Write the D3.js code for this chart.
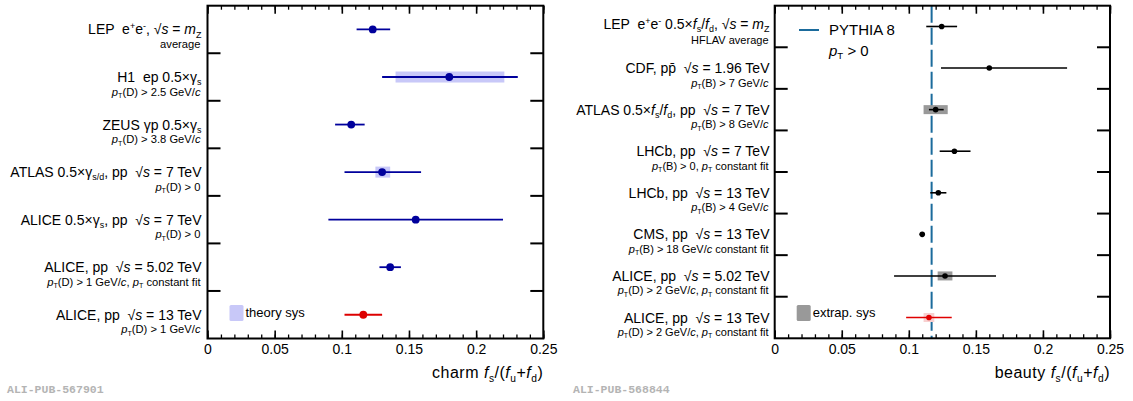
<!DOCTYPE html>
<html><head><meta charset="utf-8">
<script src="https://cdn.jsdelivr.net/npm/d3@7"></script>
<style>
body{margin:0;background:#fff;}
text{font-family:"Liberation Sans",Arial,Helvetica,sans-serif;white-space:pre;}
</style></head>
<body><svg id="c" width="1133" height="401"></svg>
<script>
// ---------------- DATA ----------------
// charm panel
const charmLabels = [
  "LEP  e^{+}e^{-}, √<i>s</i> = <i>m</i>_{Z}",
  "H1  ep 0.5×γ_{s}",
  "ZEUS γp 0.5×γ_{s}",
  "ATLAS 0.5×γ_{s/d}, pp  √<i>s</i> = 7 TeV",
  "ALICE 0.5×γ_{s}, pp  √<i>s</i> = 7 TeV",
  "ALICE, pp  √<i>s</i> = 5.02 TeV",
  "ALICE, pp  √<i>s</i> = 13 TeV"
];
const charmSub = [
  "average",
  "<i>p</i>_{T}(D) > 2.5 GeV/<i>c</i>",
  "<i>p</i>_{T}(D) > 3.8 GeV/<i>c</i>",
  "<i>p</i>_{T}(D) > 0",
  "<i>p</i>_{T}(D) > 0",
  "<i>p</i>_{T}(D) > 1 GeV/<i>c</i>, <i>p</i>_{T} constant fit",
  "<i>p</i>_{T}(D) > 1 GeV/<i>c</i>"
];
const charmVal   = [0.123, 0.180, 0.107, 0.130, 0.155, 0.136, 0.116];
const charmLo    = [0.111, 0.130, 0.095, 0.102, 0.090, 0.128, 0.102];
const charmHi    = [0.136, 0.231, 0.117, 0.159, 0.220, 0.144, 0.130];
const charmSysLo = [null, 0.140, null, 0.125, null, null, null];
const charmSysHi = [null, 0.221, null, 0.136, null, null, null];
const charmIsNew = [false, false, false, false, false, false, true];

// beauty panel
const beautyLabels = [
  "LEP  e^{+}e^{-} 0.5×<i>f</i>_{s}/<i>f</i>_{d}, √<i>s</i> = <i>m</i>_{Z}",
  "CDF, pp\u0304  √<i>s</i> = 1.96 TeV",
  "ATLAS 0.5×<i>f</i>_{s}/<i>f</i>_{d}, pp  √<i>s</i> = 7 TeV",
  "LHCb, pp  √<i>s</i> = 7 TeV",
  "LHCb, pp  √<i>s</i> = 13 TeV",
  "CMS, pp  √<i>s</i> = 13 TeV",
  "ALICE, pp  √<i>s</i> = 5.02 TeV",
  "ALICE, pp  √<i>s</i> = 13 TeV"
];
const beautySub = [
  "HFLAV average",
  "<i>p</i>_{T}(B) > 7 GeV/<i>c</i>",
  "<i>p</i>_{T}(B) > 8 GeV/<i>c</i>",
  "<i>p</i>_{T}(B) > 0, <i>p</i>_{T} constant fit",
  "<i>p</i>_{T}(B) > 4 GeV/<i>c</i>",
  "<i>p</i>_{T}(B) > 18 GeV/<i>c</i> constant fit",
  "<i>p</i>_{T}(D) > 2 GeV/<i>c</i>, <i>p</i>_{T} constant fit",
  "<i>p</i>_{T}(D) > 2 GeV/<i>c</i>, <i>p</i>_{T} constant fit"
];
const beautyVal   = [0.1245, 0.160, 0.120, 0.134, 0.122, 0.110, 0.127, 0.115];
const beautyLo    = [0.113, 0.124, 0.115, 0.123, 0.116, 0.108, 0.089, 0.098];
const beautyHi    = [0.136, 0.218, 0.126, 0.146, 0.128, 0.112, 0.165, 0.132];
const beautySysLo = [null, null, 0.111, null, null, null, 0.1215, 0.111];
const beautySysHi = [null, null, 0.129, null, null, null, 0.1325, 0.119];
const beautyIsNew = [false, false, false, false, false, false, false, true];
const pythiaValue = 0.117;

const xTickVals  = [0, 0.05, 0.1, 0.15, 0.2, 0.25];
const xTickLabels = ["0", "0.05", "0.1", "0.15", "0.2", "0.25"];
const xMinorVals = d3.range(0, 26).map(i => i / 100);

// ---------------- DRAW ----------------
const svg = d3.select("#c");
svg.append("rect").attr("width",1133).attr("height",401).attr("fill","#fff");

function rich(textSel, str, size) {
  const parts = str.split(/(<i>|<\/i>|_\{[^}]*\}|\^\{[^}]*\})/).filter(s => s !== "");
  let italic = false, shift = 0;
  parts.forEach(p => {
    if (p === "<i>") { italic = true; return; }
    if (p === "</i>") { italic = false; return; }
    let t = p, target = 0, fs = size, it = italic;
    if (p.startsWith("_{")) { t = p.slice(2, -1); target = 0.22 * size; fs = 0.64 * size; it = false; }
    else if (p.startsWith("^{")) { t = p.slice(2, -1); target = -0.38 * size; fs = 0.64 * size; it = false; }
    textSel.append("tspan").text(t)
      .attr("font-size", fs)
      .attr("dy", (target - shift).toFixed(2))
      .style("font-style", it ? "italic" : "normal");
    shift = target;
  });
}

function panel(o) {
  const g = svg.append("g");
  const x = d3.scaleLinear().domain([0, 0.25]).range([o.x0, o.x1]);
  const y = d3.scaleBand().domain(d3.range(o.val.length)).range([o.y0, o.y1]);
  const bw = y.bandwidth();
  const cy = i => y(i) + bw / 2;

  if (o.pythia != null) {
    g.append("line").attr("x1", x(o.pythia)).attr("x2", x(o.pythia))
      .attr("y1", o.y0).attr("y2", o.y1)
      .attr("stroke", "#1b6b9c").attr("stroke-width", 2)
      .attr("stroke-dasharray", "17,5");
  }

  o.val.forEach((v, i) => {
    if (o.sysLo[i] != null) {
      g.append("rect").attr("x", x(o.sysLo[i])).attr("width", x(o.sysHi[i]) - x(o.sysLo[i]))
        .attr("y", cy(i) - o.boxH / 2).attr("height", o.boxH)
        .attr("fill", o.isNew[i] ? o.newBox : o.boxColor);
    }
  });
  o.val.forEach((v, i) => {
    g.append("line").attr("x1", x(o.lo[i])).attr("x2", x(o.hi[i]))
      .attr("y1", cy(i)).attr("y2", cy(i))
      .attr("stroke", o.isNew[i] ? o.newColor : o.color).attr("stroke-width", o.lw);
  });
  o.val.forEach((v, i) => {
    g.append("circle").attr("cx", x(v)).attr("cy", cy(i)).attr("r", o.r)
      .attr("fill", o.isNew[i] ? o.newColor : o.color);
  });

  g.append("rect").attr("x", o.x0).attr("y", o.y0).attr("width", o.x1 - o.x0).attr("height", o.y1 - o.y0)
    .attr("fill", "none").attr("stroke", "#000").attr("stroke-width", 2);

  d3.range(1, o.val.length).forEach(i => {
    [[o.x0, o.x0 + 13], [o.x1 - 13, o.x1]].forEach(([a, b]) => {
      g.append("line").attr("x1", a).attr("x2", b).attr("y1", y(i)).attr("y2", y(i))
        .attr("stroke", "#000").attr("stroke-width", 2);
    });
  });

  const bottom = g.append("g").attr("transform", `translate(0,${o.y1})`)
    .call(d3.axisBottom(x).tickValues(xTickVals).tickFormat((d, i) => xTickLabels[i])
      .tickSizeInner(-8).tickSizeOuter(0).tickPadding(5.5));
  bottom.select(".domain").remove();
  bottom.selectAll("line").attr("stroke-width", 1.6);
  bottom.selectAll("text").attr("font-size", 14).attr("fill", "#000");
  const bMinor = g.append("g").attr("transform", `translate(0,${o.y1})`)
    .call(d3.axisBottom(x).tickValues(xMinorVals).tickFormat("").tickSizeInner(-4).tickSizeOuter(0));
  bMinor.select(".domain").remove();
  bMinor.selectAll("line").attr("stroke-width", 1.3);
  const top = g.append("g").attr("transform", `translate(0,${o.y0})`)
    .call(d3.axisTop(x).tickValues(xTickVals).tickFormat("").tickSizeInner(-8).tickSizeOuter(0));
  top.select(".domain").remove();
  top.selectAll("line").attr("stroke-width", 1.6);
  const tMinor = g.append("g").attr("transform", `translate(0,${o.y0})`)
    .call(d3.axisTop(x).tickValues(xMinorVals).tickFormat("").tickSizeInner(-4).tickSizeOuter(0));
  tMinor.select(".domain").remove();
  tMinor.selectAll("line").attr("stroke-width", 1.3);

  const at = g.append("text").attr("x", o.x1).attr("y", 378).attr("text-anchor", "end")
    .attr("font-size", 16).attr("letter-spacing", "0.5px").attr("fill", "#000");
  rich(at, o.title, 16);

  o.labels.forEach((s, i) => {
    const sh = i === 0 ? o.firstShift : 0;
    const t = g.append("text").attr("x", o.labelX).attr("y", cy(i) + 5 + sh).attr("text-anchor", "end")
      .attr("font-size", 14).attr("fill", "#000");
    rich(t, s, 14);
    const t2 = g.append("text").attr("x", o.labelX - 1).attr("y", cy(i) + 18.5 + sh * 0.5).attr("text-anchor", "end")
      .attr("font-size", o.subSize).attr("fill", "#000");
    rich(t2, o.sub[i], o.subSize);
  });

  g.append("rect").attr("x", o.x0 + o.legDx).attr("y", 305).attr("width", 14).attr("height", 16)
    .attr("rx", 1.5).attr("fill", o.boxColor);
  g.append("text").attr("x", o.x0 + o.legDx + 16).attr("y", 316.5).attr("font-size", 13)
    .attr("fill", "#000").text(o.legText);

  g.append("text").attr("x", o.wmX).attr("y", 393).attr("font-size", 11.5)
    .style("font-family", "'Liberation Mono','Courier New',monospace").attr("font-weight", "bold")
    .attr("fill", "#b4b4b4").text(o.wm);
  return x;
}

panel({
  x0: 207.5, x1: 543.3, y0: 5.7, y1: 338.5,
  val: charmVal, lo: charmLo, hi: charmHi, sysLo: charmSysLo, sysHi: charmSysHi, isNew: charmIsNew,
  labels: charmLabels, sub: charmSub, labelX: 201.5, firstShift: 0, subSize: 11.2,
  color: "#00009c", newColor: "#dd0000", boxColor: "#c8c8f8", newBox: "#f8c8c8",
  r: 3.9, lw: 1.8, boxH: 11,
  title: "charm <i>f</i>_{s}/(<i>f</i>_{u}+<i>f</i>_{d})",
  legDx: 22, legText: "theory sys", wm: "ALI-PUB-567901", wmX: 7, pythia: null
});

panel({
  x0: 774.7, x1: 1110, y0: 5.7, y1: 338.3,
  val: beautyVal, lo: beautyLo, hi: beautyHi, sysLo: beautySysLo, sysHi: beautySysHi, isNew: beautyIsNew,
  labels: beautyLabels, sub: beautySub, labelX: 769.5, firstShift: -2.5, subSize: 11,
  color: "#000", newColor: "#e00000", boxColor: "#999999", newBox: "#f8d0d0",
  r: 2.8, lw: 1.6, boxH: 9,
  title: "beauty <i>f</i>_{s}/(<i>f</i>_{u}+<i>f</i>_{d})",
  legDx: 22, legText: "extrap. sys", wm: "ALI-PUB-568844", wmX: 573, pythia: pythiaValue
});

svg.append("line").attr("x1", 799).attr("x2", 819).attr("y1", 30).attr("y2", 30)
  .attr("stroke", "#1b6b9c").attr("stroke-width", 2);
svg.append("text").attr("x", 829).attr("y", 35).attr("font-size", 15).attr("fill", "#000").text("PYTHIA 8");
const pt = svg.append("text").attr("x", 829).attr("y", 56).attr("font-size", 15).attr("fill", "#000");
rich(pt, "<i>p</i>_{T} > 0", 15);
</script></body></html>
